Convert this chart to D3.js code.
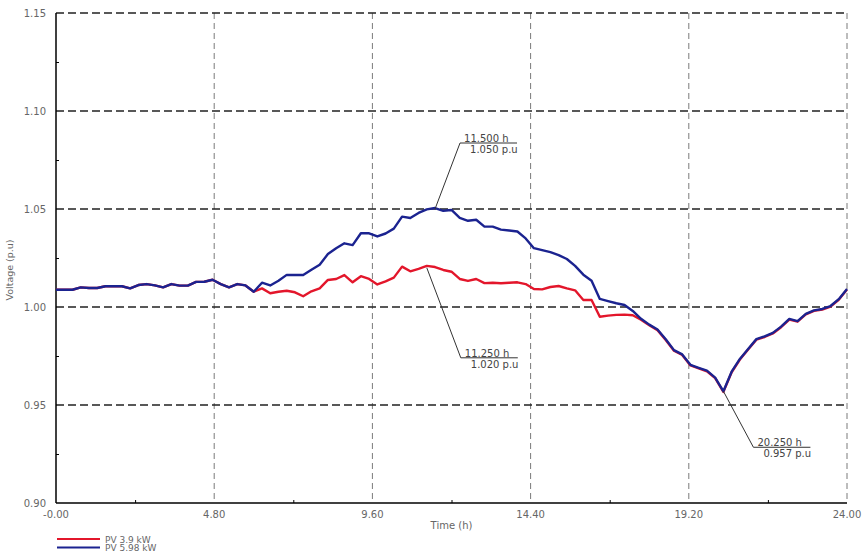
<!DOCTYPE html>
<html lang="en">

<head>
    <meta charset="utf-8">
    <title>Voltage profile</title>
    <script src="https://cdn.jsdelivr.net/npm/d3@7"></script>
    <style>
        body { margin: 0; background: #fff; }
        text { font-family: "DejaVu Sans", sans-serif; }
    </style>
</head>

<body>
    <script type="text/javascript">
        // time in hours, 15 min steps
        var times = [
            0, 0.25, 0.5, 0.75, 1, 1.25, 1.5, 1.75, 2, 2.25, 2.5, 2.75, 3, 3.25, 3.5, 3.75,
            4, 4.25, 4.5, 4.75, 5, 5.25, 5.5, 5.75, 6, 6.25, 6.5, 6.75, 7, 7.25, 7.5, 7.75,
            8, 8.25, 8.5, 8.75, 9, 9.25, 9.5, 9.75, 10, 10.25, 10.5, 10.75, 11, 11.25, 11.5, 11.75,
            12, 12.25, 12.5, 12.75, 13, 13.25, 13.5, 13.75, 14, 14.25, 14.5, 14.75, 15, 15.25, 15.5, 15.75,
            16, 16.25, 16.5, 16.75, 17, 17.25, 17.5, 17.75, 18, 18.25, 18.5, 18.75, 19, 19.25, 19.5, 19.75,
            20, 20.25, 20.5, 20.75, 21, 21.25, 21.5, 21.75, 22, 22.25, 22.5, 22.75, 23, 23.25, 23.5, 23.75, 24
        ];

        var pv598 = [
            1.0088, 1.0088, 1.0088, 1.0100, 1.0097, 1.0097, 1.0106, 1.0106, 1.0106, 1.0095, 1.0112, 1.0117, 1.0110, 1.0100, 1.0117, 1.0109,
            1.0109, 1.0128, 1.0129, 1.0139, 1.0117, 1.0100, 1.0117, 1.0110, 1.0078, 1.0124, 1.0110, 1.0134, 1.0164, 1.0163, 1.0163, 1.0190,
            1.0216, 1.0270, 1.0300, 1.0325, 1.0316, 1.0376, 1.0376, 1.0360, 1.0375, 1.0400, 1.0461, 1.0454, 1.0480, 1.0498, 1.0505, 1.0491,
            1.0495, 1.0455, 1.0440, 1.0445, 1.0410, 1.0410, 1.0395, 1.0390, 1.0385, 1.0350, 1.0300, 1.0290, 1.0280, 1.0265, 1.0245, 1.0210,
            1.0165, 1.0134, 1.0041, 1.0030, 1.0019, 1.0010, 0.9980, 0.9940, 0.9910, 0.9885, 0.9835, 0.9780, 0.9758, 0.9705, 0.9690, 0.9675,
            0.9640, 0.9570, 0.9670, 0.9735, 0.9786, 0.9836, 0.9850, 0.9868, 0.9900, 0.9939, 0.9928, 0.9965, 0.9983, 0.9990, 1.0005, 1.0040, 1.0092
        ];

        var pv39 = [
            1.0088, 1.0088, 1.0088, 1.0100, 1.0097, 1.0097, 1.0106, 1.0106, 1.0106, 1.0095, 1.0112, 1.0117, 1.0110, 1.0100, 1.0117, 1.0109,
            1.0109, 1.0128, 1.0129, 1.0139, 1.0117, 1.0100, 1.0117, 1.0110, 1.0078, 1.0095, 1.0070, 1.0078, 1.0083, 1.0075, 1.0055, 1.0080,
            1.0095, 1.0138, 1.0143, 1.0163, 1.0126, 1.0157, 1.0143, 1.0115, 1.0131, 1.0150, 1.0206, 1.0182, 1.0195, 1.0210, 1.0204, 1.0189,
            1.0180, 1.0143, 1.0133, 1.0143, 1.0122, 1.0124, 1.0121, 1.0124, 1.0126, 1.0117, 1.0092, 1.0090, 1.0102, 1.0107, 1.0095, 1.0085,
            1.0036, 1.0036, 0.9950, 0.9956, 0.9960, 0.9961, 0.9958, 0.9935, 0.9907, 0.9882, 0.9832, 0.9777, 0.9755, 0.9702, 0.9687, 0.9672,
            0.9637, 0.9567, 0.9667, 0.9732, 0.9783, 0.9833, 0.9847, 0.9865, 0.9897, 0.9936, 0.9925, 0.9962, 0.9980, 0.9987, 1.0002, 1.0037, 1.0089
        ];

        var seriesNames = ['PV 3.9 kW', 'PV 5.98 kW'];
        var seriesColors = ['#e3162b', '#1b2390'];

        var xTickValues = [0, 4.8, 9.6, 14.4, 19.2, 24];
        var xTickLabels = ['-0.00', '4.80', '9.60', '14.40', '19.20', '24.00'];
        var yTickValues = [0.90, 0.95, 1.00, 1.05, 1.10, 1.15];
        var yTickLabels = ['0.90', '0.95', '1.00', '1.05', '1.10', '1.15'];

        // annotations: time, value, line 1, line 2
        var noteTimes = [11.5, 11.25, 20.25];
        var noteValues = [1.050, 1.020, 0.957];
        var noteTop = ['11.500 h', '11.250 h', '20.250 h'];
        var noteBottom = ['1.050 p.u', '1.020 p.u', '0.957 p.u'];
        var noteOffsets = [[25, -66], [34, 90], [30, 56]];

        var width = 863, height = 552;
        var plotLeft = 56, plotRight = 847, plotTop = 13, plotBottom = 503;

        var xScale = d3.scaleLinear().domain([0, 24]).range([plotLeft, plotRight]);
        var yScale = d3.scaleLinear().domain([0.90, 1.15]).range([plotBottom, plotTop]);

        var svg = d3.select('body')
            .append('svg')
            .attr('width', width)
            .attr('height', height);

        // vertical grid
        svg.append('g')
            .selectAll('line')
            .data(xTickValues.slice(1))
            .enter()
            .append('line')
            .attr('x1', function (d) { return xScale(d); })
            .attr('x2', function (d) { return xScale(d); })
            .attr('y1', plotTop)
            .attr('y2', plotBottom)
            .attr('stroke', '#7a7a7a')
            .attr('stroke-width', 1)
            .attr('stroke-dasharray', '6,4');

        // horizontal grid
        svg.append('g')
            .selectAll('line')
            .data(yTickValues.slice(1))
            .enter()
            .append('line')
            .attr('x1', plotLeft)
            .attr('x2', plotRight)
            .attr('y1', function (d) { return yScale(d); })
            .attr('y2', function (d) { return yScale(d); })
            .attr('stroke', '#222')
            .attr('stroke-width', 1.3)
            .attr('stroke-dasharray', '8,4');

        // axes (inner minor ticks, labels drawn separately)
        var yAxis = d3.axisRight(yScale)
            .tickValues([0.925, 0.975, 1.025, 1.075, 1.125])
            .tickSize(3)
            .tickFormat('');
        svg.append('g')
            .attr('transform', 'translate(' + plotLeft + ',0)')
            .call(yAxis)
            .call(function (g) {
                g.select('.domain').remove();
                g.selectAll('line').attr('stroke', '#000');
            });

        var xAxis = d3.axisTop(xScale)
            .tickValues([2.4, 7.2, 12, 16.8, 21.6])
            .tickSize(3)
            .tickFormat('');
        svg.append('g')
            .attr('transform', 'translate(0,' + plotBottom + ')')
            .call(xAxis)
            .call(function (g) {
                g.select('.domain').remove();
                g.selectAll('line').attr('stroke', '#000');
            });

        svg.append('line')
            .attr('x1', plotLeft).attr('x2', plotLeft)
            .attr('y1', plotTop).attr('y2', plotBottom)
            .attr('stroke', '#000').attr('stroke-width', 1.5);
        svg.append('line')
            .attr('x1', plotLeft).attr('x2', plotRight)
            .attr('y1', plotBottom).attr('y2', plotBottom)
            .attr('stroke', '#000').attr('stroke-width', 1.5);

        // tick labels
        svg.append('g')
            .selectAll('text')
            .data(yTickValues)
            .enter()
            .append('text')
            .attr('x', plotLeft - 10)
            .attr('y', function (d) { return yScale(d) + 4; })
            .attr('text-anchor', 'end')
            .attr('font-size', 10)
            .attr('fill', '#666')
            .text(function (d, i) { return yTickLabels[i]; });

        svg.append('g')
            .selectAll('text')
            .data(xTickValues)
            .enter()
            .append('text')
            .attr('x', function (d) { return xScale(d); })
            .attr('y', plotBottom + 15)
            .attr('text-anchor', 'middle')
            .attr('font-size', 10)
            .attr('fill', '#666')
            .text(function (d, i) { return xTickLabels[i]; });

        // axis titles
        svg.append('text')
            .attr('x', (plotLeft + plotRight) / 2)
            .attr('y', plotBottom + 26)
            .attr('text-anchor', 'middle')
            .attr('font-size', 10)
            .attr('fill', '#666')
            .text('Time (h)');
        svg.append('text')
            .attr('transform', 'translate(13,' + 270 + ') rotate(-90)')
            .attr('text-anchor', 'middle')
            .attr('font-size', 9.5)
            .attr('fill', '#666')
            .text('Voltage (p.u)');

        // lines
        var line = d3.line()
            .x(function (d) { return xScale(d[0]); })
            .y(function (d) { return yScale(d[1]); });

        var series = [pv39, pv598];
        svg.append('g')
            .selectAll('path')
            .data(series)
            .enter()
            .append('path')
            .attr('d', function (s) {
                return line(times.map(function (t, i) { return [t, s[i]]; }));
            })
            .attr('fill', 'none')
            .attr('stroke', function (d, i) { return seriesColors[i]; })
            .attr('stroke-width', 2.4)
            .attr('stroke-linejoin', 'round');

        // annotations
        var notes = svg.append('g')
            .selectAll('g')
            .data(noteTimes)
            .enter()
            .append('g');
        notes.append('path')
            .attr('d', function (d, i) {
                var px = xScale(d), py = yScale(noteValues[i]);
                var cx = px + noteOffsets[i][0], cy = py + noteOffsets[i][1];
                return 'M' + px + ',' + py + 'L' + cx + ',' + cy + 'H' + (cx + 57);
            })
            .attr('fill', 'none')
            .attr('stroke', '#333')
            .attr('stroke-width', 1);
        notes.append('text')
            .attr('x', function (d, i) { return xScale(d) + noteOffsets[i][0] + 4; })
            .attr('y', function (d, i) { return yScale(noteValues[i]) + noteOffsets[i][1] - 1; })
            .attr('font-size', 10)
            .attr('fill', '#444')
            .text(function (d, i) { return noteTop[i]; });
        notes.append('text')
            .attr('x', function (d, i) { return xScale(d) + noteOffsets[i][0] + 10; })
            .attr('y', function (d, i) { return yScale(noteValues[i]) + noteOffsets[i][1] + 10; })
            .attr('font-size', 10)
            .attr('fill', '#444')
            .text(function (d, i) { return noteBottom[i]; });

        // legend
        var legend = svg.append('g')
            .selectAll('g')
            .data(seriesNames)
            .enter()
            .append('g')
            .attr('transform', function (d, i) { return 'translate(57,' + (539 + i * 8.5) + ')'; });
        legend.append('line')
            .attr('x1', 0).attr('x2', 43)
            .attr('stroke', function (d, i) { return seriesColors[i]; })
            .attr('stroke-width', 2);
        legend.append('text')
            .attr('x', 48)
            .attr('y', 3.5)
            .attr('font-size', 9)
            .attr('fill', '#666')
            .text(function (d) { return d; });
    </script>
</body>

</html>
